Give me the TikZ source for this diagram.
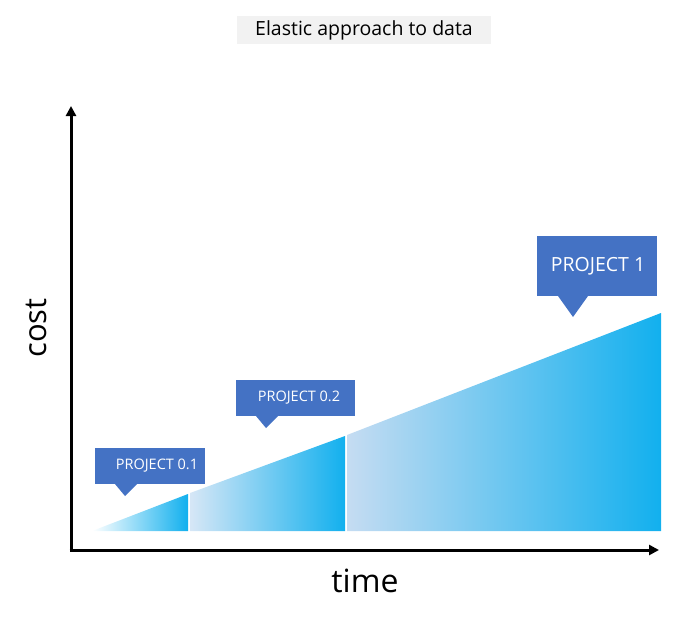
\documentclass[tikz,border=0pt]{standalone}
\usepackage{fontspec}
\setmainfont{Open Sans}
\usetikzlibrary{arrows.meta}
\definecolor{callblue}{HTML}{4472C4}
\definecolor{gradend}{HTML}{12B0EE}
\definecolor{gradstart}{HTML}{C5DCF2}
\definecolor{titlegray}{HTML}{F2F2F2}
\begin{document}
\begin{tikzpicture}[x=1pt,y=-1pt,
  axis/.style={line width=3pt,-{Triangle[length=10pt,width=10pt]}},
  calltext/.style={text=white,font=\fontsize{14.5}{16}\selectfont},
  callbox/.style={fill=callblue,draw=none}]
\useasboundingbox (0,0) rectangle (674,627);
% title
\node[fill=titlegray,minimum width=254pt,minimum height=28pt,font=\fontsize{19.5}{22}\selectfont] (title) at (364,30) {Elastic approach to data};
% shapes
\shade[left color=white,right color=gradend] (92,531) -- (188,494) -- (188,531) -- cycle;
\shade[left color=gradstart!70!white,right color=gradend] (190,531) -- (190,493) -- (345,436) -- (345,531) -- cycle;
\shade[left color=gradstart,right color=gradend] (347,531) -- (347,435) -- (661,313) -- (661,531) -- cycle;
% axes
\coordinate (ytop) at (71,106);
\coordinate (xend) at (659,550);
\draw[axis] (71,551.5) -- (ytop);
\draw[axis] (69.5,550) -- (xend);
\node[font=\fontsize{31}{36}\selectfont,rotate=90] (cost) at (36,328) {cost};
\node[font=\fontsize{32}{36}\selectfont] (time) at (365,581) {time};
% callouts
\fill[callbox] (95,448) rectangle (205,484);
\fill[callbox] (115,484) -- (125,496) -- (137,484) -- cycle;
\node[calltext] (p01) at (157,466) {PROJECT 0.1};
\fill[callbox] (236,380) rectangle (355,416);
\fill[callbox] (256,416) -- (266,428) -- (278,416) -- cycle;
\node[calltext] (p02) at (299,398) {PROJECT 0.2};
\fill[callbox] (537,236) rectangle (657,296);
\fill[callbox] (558,296) -- (573,317) -- (588,296) -- cycle;
\node[calltext,font=\fontsize{19.5}{22}\selectfont] (p1) at (598,266) {PROJECT 1};
\end{tikzpicture}
\end{document}
